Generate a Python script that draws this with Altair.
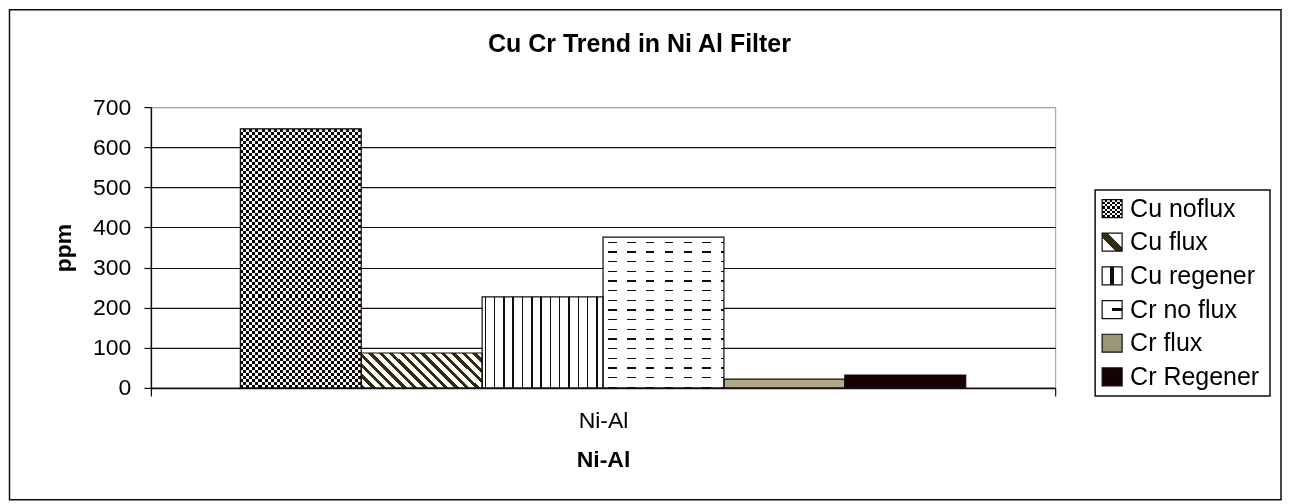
import altair as alt
import pandas as pd

# ---- data ----
TITLE = "Cu Cr Trend in Ni Al Filter"
CATEGORIES = ["Ni-Al"]
SERIES = ["Cu noflux", "Cu flux", "Cu regener", "Cr no flux", "Cr flux", "Cr Regener"]
VALUES = [646, 87, 227, 376, 22, 32]
Y_TICKS = [0, 100, 200, 300, 400, 500, 600, 700]
Y_TITLE = "ppm"
X_TITLE = "Ni-Al"

df = pd.DataFrame({
    "category": CATEGORIES * len(SERIES),
    "series": SERIES,
    "value": VALUES,
})

FONT = "Liberation Sans"
INK = "#140c0c"
OLIVE = "#2f2f0f"


def grad(n, on, off, frac, phase=0.0, x1=0.0, y1=0.0, x2=1.0, y2=0.0):
    """Hard-stop linear gradient giving n stripes (a fill pattern)."""
    stops = []
    i = -1
    while True:
        a = (i + phase) / n
        b = (i + phase + frac) / n
        c = (i + 1 + phase) / n
        for s, e, col in ((a, b, on), (b, c, off)):
            s2, e2 = max(s, 0.0), min(e, 1.0)
            if e2 > s2:
                stops.append(alt.GradientStop(offset=round(s2, 5), color=col))
                stops.append(alt.GradientStop(offset=round(e2, 5), color=col))
        if a > 1:
            break
        i += 1
    return alt.LinearGradient(gradient="linear", stops=stops, x1=x1, y1=y1, x2=x2, y2=y2)


VERT = dict(x1=0, y1=0, x2=0, y2=1)   # horizontal stripes
HORZ = dict(x1=0, y1=0, x2=1, y2=0)   # vertical stripes


def diag(w, h):
    r = h / w
    f = (1 + r) / (1 + r * r)
    return dict(x1=0, y1=1, x2=round(f, 4), y2=round(1 - f * r, 4))


BAR_STYLE = {
    "Cu noflux": dict(base=grad(43, INK, "white", 0.5, **VERT),
                      over=grad(20, "white", "black", 0.5, **HORZ), blend="difference"),
    "Cu flux": dict(base=grad(15, OLIVE, "white", 0.42, **diag(121, 35))),
    "Cu regener": dict(base=grad(13, INK, "white", 0.16, phase=0.26, **HORZ)),
    "Cr no flux": dict(base=grad(15.6, INK, "white", 0.13, phase=0.48, **VERT),
                       over=grad(6.4, "black", "white", 0.46, phase=0.26, **HORZ), blend="lighten"),
    "Cr flux": dict(base="#aeac88"),
    "Cr Regener": dict(base="#150202"),
}

LEG_STYLE = {
    "Cu noflux": dict(base=grad(4, INK, "white", 0.5, **VERT),
                      over=grad(4, "white", "black", 0.5, **HORZ), blend="difference"),
    "Cu flux": dict(base=grad(1, OLIVE, "white", 0.26, phase=0.37, **diag(20, 18))),
    "Cu regener": dict(base=grad(1, INK, "white", 0.2, phase=0.4, **HORZ)),
    "Cr no flux": dict(base=grad(1, INK, "white", 0.12, phase=0.44, **VERT),
                       over=grad(1, "black", "white", 0.5, phase=0.5, **HORZ), blend="lighten"),
    "Cr flux": dict(base="#9a9876"),
    "Cr Regener": dict(base="#150202"),
}

# ---- bars ----
base = alt.Chart(df).encode(
    x=alt.X("category:N", title=X_TITLE,
            scale=alt.Scale(paddingInner=0, paddingOuter=0),
            axis=alt.Axis(labelAngle=0, tickBand="extent", tickSize=8, tickColor=INK,
                          tickWidth=1.2, domainColor=INK, domainWidth=1.5,
                          labelFontSize=23, labelPadding=14, labelColor="black",
                          titleFontSize=23, titleFontWeight="bold", titleColor="black",
                          titleY=72, titleBaseline="middle", grid=False)),
    xOffset=alt.XOffset("series:N", sort=SERIES,
                        scale=alt.Scale(domain=SERIES, paddingInner=0, paddingOuter=0.74)),
    y=alt.Y("value:Q", title=Y_TITLE,
            scale=alt.Scale(domain=[0, 700], nice=False, zero=True),
            axis=alt.Axis(values=Y_TICKS, grid=True,
                          gridColor={"condition": {"test": "datum.value === 700", "value": "#a6a6a6"},
                                     "value": INK},
                          gridWidth=1.2, tickSize=7, tickColor=INK, tickWidth=1.2,
                          domainColor=INK, domainWidth=1.5,
                          labelFontSize=23, labelPadding=13, labelColor="black",
                          titleFontSize=23, titleFontWeight="bold", titleColor="black",
                          titleX=-80, titleY=140.5, titleAngle=270,
                          titleBaseline="alphabetic", titleAlign="center")),
)

bar_layers = []
for s in SERIES:
    st = BAR_STYLE[s]
    sub = base.transform_filter(alt.datum.series == s)
    bar_layers.append(sub.mark_bar(fill=st["base"]))
    if "over" in st:
        bar_layers.append(sub.mark_bar(fill=st["over"], blend=st["blend"]))
bar_layers.append(base.mark_bar(fillOpacity=0, stroke=INK, strokeWidth=1.2))
bars = alt.layer(*bar_layers)

# ---- legend (built from the same series list) ----
lbase = alt.Chart(df).encode(
    y=alt.Y("series:N", sort=SERIES,
            scale=alt.Scale(domain=SERIES, range=[84.65, 286.85],
                            paddingInner=0.466, paddingOuter=0.233),
            axis=None)
)
leg_layers = []
for s in SERIES:
    st = LEG_STYLE[s]
    sub = lbase.transform_filter(alt.datum.series == s)
    leg_layers.append(sub.mark_rect(fill=st["base"]).encode(x=alt.value(952), x2=alt.value(972)))
    if "over" in st:
        leg_layers.append(sub.mark_rect(fill=st["over"], blend=st["blend"]).encode(
            x=alt.value(952), x2=alt.value(972)))
leg_layers.append(lbase.mark_rect(fillOpacity=0, stroke=INK, strokeWidth=1.2).encode(
    x=alt.value(952), x2=alt.value(972)))
leg_layers.append(lbase.mark_text(align="left", baseline="middle", fontSize=25, color="black").encode(
    text="series:N", x=alt.value(980)))
legend = alt.layer(*leg_layers)

frame_df = pd.DataFrame({"frame": ["box"]})
border = alt.Chart(frame_df).mark_rect(fillOpacity=0, stroke=INK, strokeWidth=1.5).encode(
    x=alt.value(-141.5), x2=alt.value(1131), y=alt.value(-97.5), y2=alt.value(393))
legend_box = alt.Chart(frame_df).mark_rect(fill="white", stroke=INK, strokeWidth=1.5).encode(
    x=alt.value(945), x2=alt.value(1120), y=alt.value(83), y2=alt.value(289))

title = alt.Chart(pd.DataFrame({"title": [TITLE]})).mark_text(
    fontSize=25, fontWeight="bold", align="center", baseline="middle", color="black"
).encode(text="title:N", x=alt.value(489), y=alt.value(-63.3))

chart = alt.layer(border, bars, legend_box, legend, title).resolve_scale(
    y="independent"
).properties(width=905, height=281, padding=0).configure(
    font=FONT
).configure_view(stroke="#9c9c9c", strokeWidth=1)

chart.save("out.html", embed_options={"renderer": "svg", "actions": False})
